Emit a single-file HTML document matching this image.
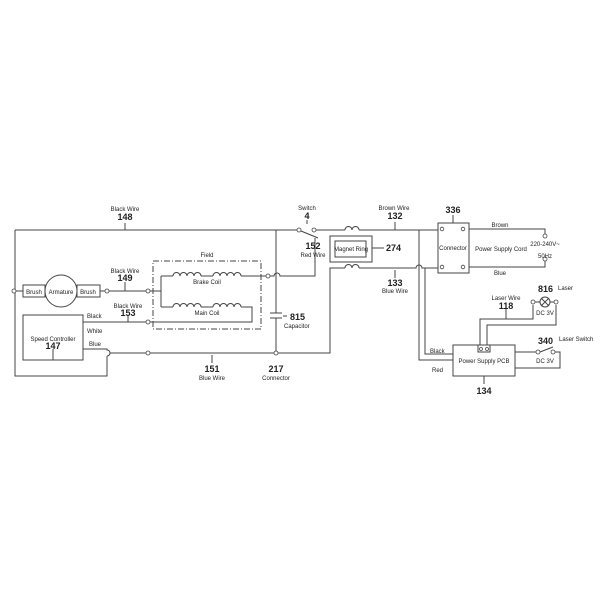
<!DOCTYPE html>
<html><head><meta charset="utf-8"><style>
html,body{margin:0;padding:0;background:#fff}
svg{display:block}
text{font-family:"Liberation Sans",sans-serif;fill:#222}
.s{font-size:6px}.b{font-size:9px;font-weight:bold}
</style></head><body>
<svg width="600" height="600" viewBox="0 0 600 600" xmlns="http://www.w3.org/2000/svg">
<g fill="none" stroke="#444" stroke-width="1">
<path d="M15 230H297M15 230V376H107V356"/>
<path d="M107 356a3 3 0 0 0 0 -6V349H83"/>
<path d="M125 230V223"/>
<path d="M14 291H23M100 291H105M109 291H146"/>
<rect x="23" y="285" width="22" height="12"/>
<rect x="77" y="285" width="23" height="12"/>
<circle cx="61" cy="291" r="16"/>
<path d="M125 291V282"/>
<rect x="23" y="315" width="60" height="45"/>
<path d="M53 349V360"/>
<path d="M83 322H146M128 322V316"/>
<path d="M110 353H146M150 353H330V268H345M212 355V363"/>
<rect x="153" y="261" width="108" height="68" stroke-dasharray="6,2,1,2"/>
<path d="M148 291H161M161 276V307"/>
<path d="M161 276H173M241 276H266M270 276H274a3 3 0 0 1 6 0H315V238"/>
<path d="M161 307H173M241 307H252V322H150"/>
<path d="M173 276a3.5 3.5 0 0 1 7 0a3.5 3.5 0 0 1 7 0a3.5 3.5 0 0 1 7 0a3.5 3.5 0 0 1 7 0M213 276a3.5 3.5 0 0 1 7 0a3.5 3.5 0 0 1 7 0a3.5 3.5 0 0 1 7 0a3.5 3.5 0 0 1 7 0M201 276H213"/>
<path d="M173 307a3.5 3.5 0 0 1 7 0a3.5 3.5 0 0 1 7 0a3.5 3.5 0 0 1 7 0a3.5 3.5 0 0 1 7 0M213 307a3.5 3.5 0 0 1 7 0a3.5 3.5 0 0 1 7 0a3.5 3.5 0 0 1 7 0a3.5 3.5 0 0 1 7 0M201 307H213"/>
<path d="M276 230V313M276 318V353M270 313H282M270 318H282M283 316H287"/>
<path d="M301 231L318 238M307 220V224M316 230H345"/>
<rect x="330" y="236" width="42" height="26"/>
<rect x="335" y="241" width="31" height="16"/>
<path d="M345 230a3.5 3.5 0 0 1 7 0a3.5 3.5 0 0 1 7 0M359 230H438"/>
<path d="M345 268a3.5 3.5 0 0 1 7 0a3.5 3.5 0 0 1 7 0M359 268H416a3 3 0 0 1 6 0H438"/>
<path d="M372 248H384M395 230V222M395 270V278"/>
<rect x="438" y="223" width="31" height="50"/>
<path d="M453 215V223"/>
<path d="M469 229H545V234M469 267H545V261"/>
<path d="M419 230V360H453M425 268V354H453"/>
<rect x="453" y="345" width="62" height="31"/>
<rect x="478" y="345" width="12" height="7"/>
<path d="M484 376V384"/>
<path d="M480 345V319H533V305M487 345V325H556V305"/>
<path d="M506 309V319"/>
<circle cx="545" cy="302" r="5"/>
<path d="M541.5 298.5L548.5 305.5M548.5 298.5L541.5 305.5M535 302H540M550 302H554"/>
<path d="M515 352H536M540 352L553 347M554 352H560V368H515"/>
</g>
<g fill="#fff" stroke="#444" stroke-width="0.8">
<circle cx="14" cy="291" r="2"/><circle cx="107" cy="291" r="2"/><circle cx="148" cy="291" r="2"/>
<circle cx="148" cy="322" r="2"/><circle cx="148" cy="353" r="2"/><circle cx="268" cy="276" r="2"/>
<circle cx="276" cy="353" r="2"/><circle cx="299" cy="230" r="2"/><circle cx="314" cy="230" r="2"/>
<circle cx="442" cy="229" r="1.8"/><circle cx="463" cy="229" r="1.8"/><circle cx="442" cy="267" r="1.8"/><circle cx="463" cy="267" r="1.8"/>
<circle cx="545" cy="236" r="2"/><circle cx="545" cy="259" r="2"/>
<circle cx="533" cy="302" r="2"/><circle cx="556" cy="302" r="2"/>
<circle cx="538" cy="352" r="2"/><circle cx="553" cy="352" r="2"/>
<circle cx="481" cy="349" r="1.5"/><circle cx="487" cy="349" r="1.5"/>
</g>
<g text-anchor="middle">
<text class="s" x="125" y="211">Black Wire</text><text class="b" x="125" y="220">148</text>
<text class="s" x="34" y="294">Brush</text><text class="s" x="61" y="294">Armature</text><text class="s" x="88" y="294">Brush</text>
<text class="s" x="125" y="273">Black Wire</text><text class="b" x="125" y="281">149</text>
<text class="s" x="128" y="308">Black Wire</text><text class="b" x="128" y="316">153</text>
<text class="s" x="53" y="341">Speed Controller</text><text class="b" x="53" y="349">147</text>
<text class="s" x="207" y="257">Field</text>
<text class="s" x="207" y="284">Brake Coil</text>
<text class="s" x="207" y="315">Main Coil</text>
<text class="b" x="212" y="372">151</text><text class="s" x="212" y="380">Blue Wire</text>
<text class="b" x="276" y="372">217</text><text class="s" x="276" y="380">Connector</text>
<text class="s" x="307" y="210">Switch</text><text class="b" x="307" y="219">4</text>
<text class="b" x="313" y="249">152</text><text class="s" x="313" y="257">Red Wire</text>
<text class="s" x="351" y="251" font-size="5.5">Magnet Ring</text>
<text class="s" x="394" y="210">Brown Wire</text><text class="b" x="395" y="219">132</text>
<text class="b" x="395" y="286">133</text><text class="s" x="395" y="293">Blue Wire</text>
<text class="b" x="453" y="213">336</text>
<text class="s" x="453" y="250">Connector</text>
<text class="s" x="500" y="227">Brown</text><text class="s" x="501" y="251">Power Supply Cord</text><text class="s" x="500" y="275">Blue</text>
<text class="s" x="545" y="246">220-240V~</text><text class="s" x="545" y="258">50Hz</text>
<text class="s" x="506" y="300">Laser Wire</text><text class="b" x="506" y="309">118</text>
<text class="s" x="545" y="315">DC 3V</text><text class="s" x="545" y="363">DC 3V</text>
<text class="s" x="484" y="363">Power Supply PCB</text>
<text class="b" x="484" y="394">134</text>
</g>
<text class="s" x="87" y="318">Black</text><text class="s" x="87" y="333">White</text><text class="s" x="89" y="346">Blue</text>
<text class="b" x="290" y="320">815</text><text class="s" x="284" y="328">Capacitor</text>
<text class="b" x="386" y="251">274</text>
<text class="s" x="430" y="353">Black</text><text class="s" x="432" y="372">Red</text>
<text class="b" x="538" y="292">816</text><text class="s" x="558" y="290">Laser</text>
<text class="b" x="538" y="344">340</text><text class="s" x="559" y="341">Laser Switch</text>
</svg>
</body></html>
